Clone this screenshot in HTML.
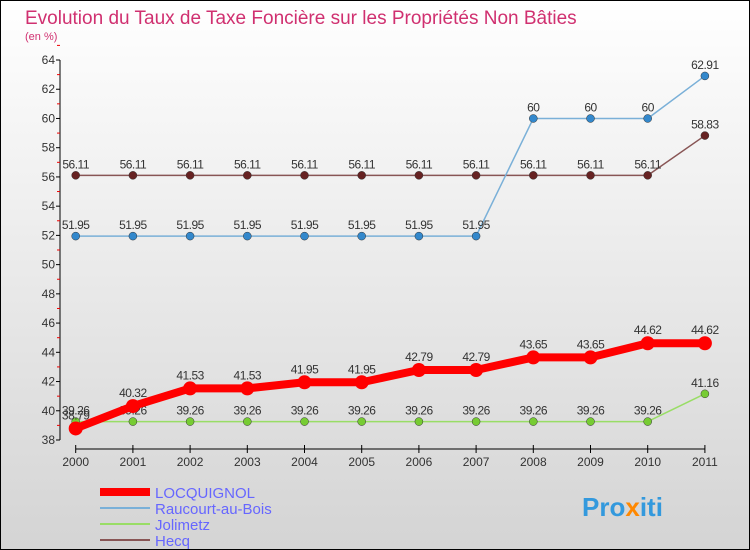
<!DOCTYPE html>
<html><head><meta charset="utf-8"><style>
body{margin:0}
#c{width:750px;height:550px;position:relative;overflow:hidden;font-family:"Liberation Sans",sans-serif}
</style></head><body>
<div id="c">
<svg id="s" width="750" height="550" xmlns="http://www.w3.org/2000/svg">
<defs><linearGradient id="bg" x1="0" y1="0" x2="0" y2="1"><stop offset="0" stop-color="#ffffff"/><stop offset="1" stop-color="#d4d4d4"/></linearGradient></defs>
<rect x="0.5" y="0.5" width="749" height="549" fill="url(#bg)" stroke="#000"/>
<text x="25" y="24" font-size="19" fill="#d03070">Evolution du Taux de Taxe Foncière sur les Propriétés Non Bâties</text>
<text x="25" y="40" font-size="11" fill="#d03070">(en %)</text>
<g id="axes"></g><g id="series"></g>
<g>
<line x1="100" y1="492" x2="150" y2="492" stroke="#f00" stroke-width="8"/>
<text x="155" y="498" font-size="15" fill="#6666ff">LOCQUIGNOL</text>
<line x1="100" y1="508" x2="150" y2="508" stroke="#7ab0d8" stroke-width="2"/>
<text x="155" y="514" font-size="15" fill="#6666ff">Raucourt-au-Bois</text>
<line x1="100" y1="524" x2="150" y2="524" stroke="#99dd66" stroke-width="2"/>
<text x="155" y="530" font-size="15" fill="#6666ff">Jolimetz</text>
<line x1="100" y1="540" x2="150" y2="540" stroke="#885555" stroke-width="2"/>
<text x="155" y="546" font-size="15" fill="#6666ff">Hecq</text>
</g>
<text x="582" y="516" font-size="26" font-weight="bold" fill="#3399dd">Pro<tspan fill="#ff8800">x</tspan>iti</text>
</svg></div>
<script>
const years=[2000,2001,2002,2003,2004,2005,2006,2007,2008,2009,2010,2011];
const locq=[38.79,40.32,41.53,41.53,41.95,41.95,42.79,42.79,43.65,43.65,44.62,44.62];
const rauc=[51.95,51.95,51.95,51.95,51.95,51.95,51.95,51.95,60,60,60,62.91];
const joli=[39.26,39.26,39.26,39.26,39.26,39.26,39.26,39.26,39.26,39.26,39.26,41.16];
const hecq=[56.11,56.11,56.11,56.11,56.11,56.11,56.11,56.11,56.11,56.11,56.11,58.83];
const yTicks=[38,40,42,44,46,48,50,52,54,56,58,60,62,64];
const NS="http://www.w3.org/2000/svg";
const X=i=>75.7+i*57.2, Y=v=>440-(v-38)*14.615;
function mk(t,a,p){const e=document.createElementNS(NS,t);for(const k in a)e.setAttribute(k,a[k]);p.appendChild(e);return e;}
const ax=document.getElementById('axes'), sr=document.getElementById('series');
let l=mk('line',{x1:60,y1:Y(64),x2:60,y2:Y(38),stroke:'#000'},ax);


l=mk('line',{x1:X(0),y1:449,x2:X(11),y2:449,stroke:'#000'},ax);


yTicks.forEach(v=>{
  mk('line',{x1:56,x2:60,y1:Y(v),y2:Y(v),stroke:'#000'},ax);
  mk('line',{x1:57,x2:60,y1:Y(v+1),y2:Y(v+1),stroke:'#e00'},ax);
  const t=mk('text',{x:55,y:Y(v)+4,'font-size':12,fill:'#333','text-anchor':'end'},ax);
  t.textContent=v;
  
  
});
years.forEach((y,i)=>{
  mk('line',{x1:X(i),x2:X(i),y1:445,y2:453,stroke:'#000'},ax);
  const t=mk('text',{x:X(i),y:466,'font-size':12,fill:'#333','text-anchor':'middle'},ax);
  t.textContent=y;
  
  
});
function series(vals,color,w,r,dot,name,lab){
  const g=mk('g',{},sr);
  
  
  mk('polyline',{points:vals.map((v,i)=>X(i)+','+Y(v)).join(' '),fill:'none',stroke:color,'stroke-width':w,'stroke-linejoin':'round'},g);
  vals.forEach((v,i)=>{
    const c=mk('circle',{cx:X(i),cy:Y(v),r:r,fill:dot,stroke:'#333','stroke-width':r>5?0:0.5},g);
    
    
    const t=mk('text',{x:X(i),y:Y(v)-(r>5?9:7),'font-size':12,fill:'#333','text-anchor':'middle','letter-spacing':'-0.5'},g);
    t.textContent=v;
  });
}
series(hecq,'#885555',1.5,4,'#662222','series-hecq');
series(rauc,'#7ab0d8',1.5,4,'#3388cc','series-raucourt');
series(joli,'#99dd66',1.5,4,'#77cc33','series-jolimetz');
series(locq,'#f00',8,7,'#f00','series-locquignol');
</script>
</body></html>
